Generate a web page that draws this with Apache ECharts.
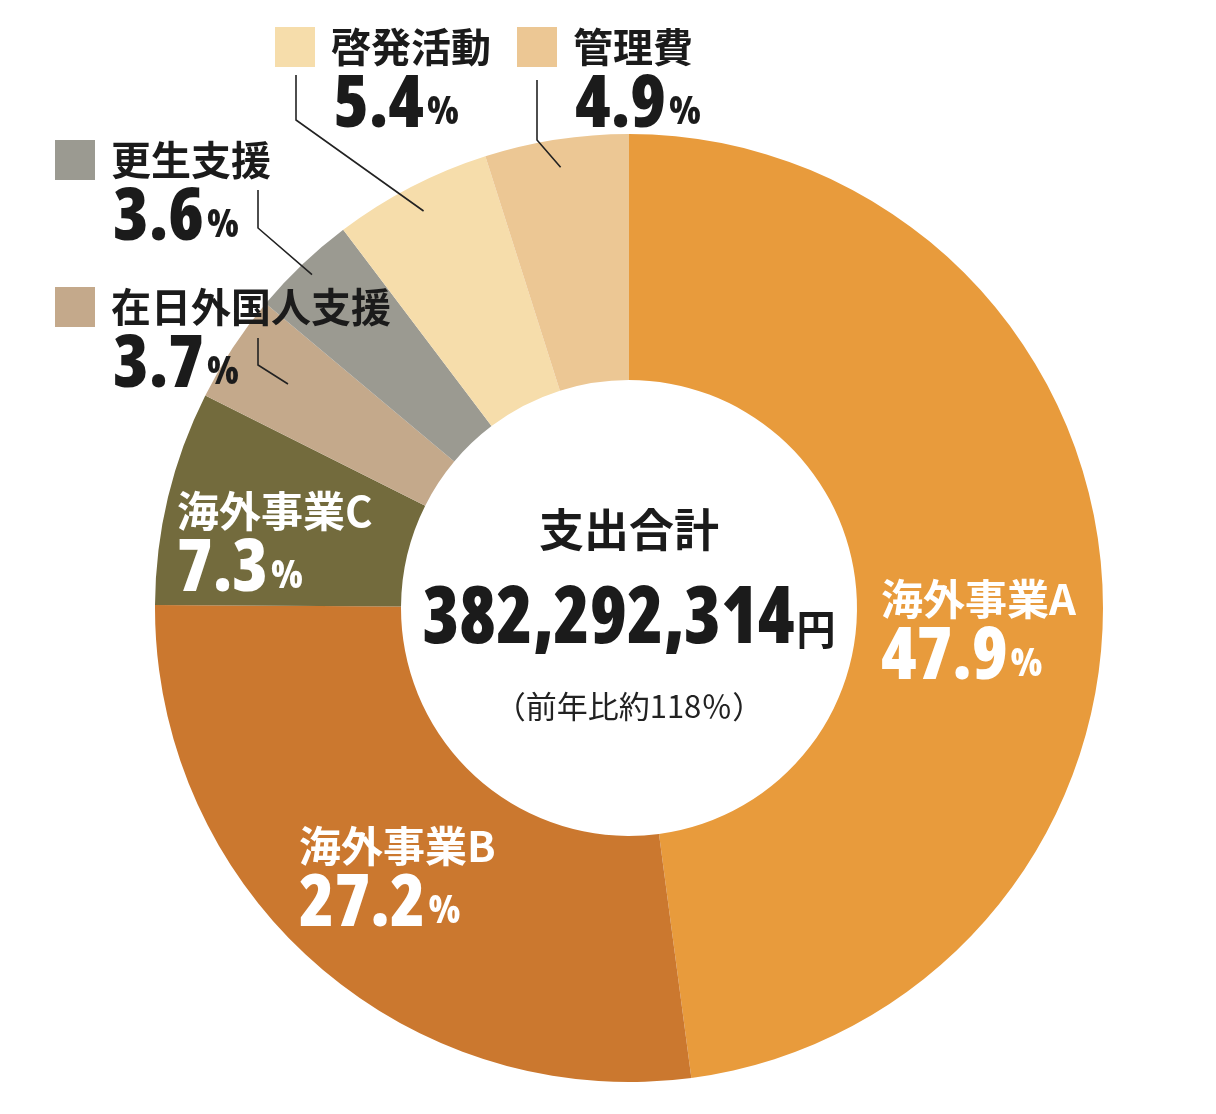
<!DOCTYPE html>
<html lang="ja">
<head>
  <meta charset="UTF-8">
  <title>支出内訳</title>
  <style>
    body { margin: 0; padding: 0; background: #fff; }
    #chart { width: 1216px; height: 1114px; }
  </style>
</head>
<body>
  <div id="chart"></div>
  <script src="https://cdn.jsdelivr.net/npm/echarts@6/dist/echarts.min.js"></script>
  <script>
    // data
    var categories = ['海外事業A', '海外事業B', '海外事業C', '在日外国人支援', '更生支援', '啓発活動', '管理費'];
    var shares = [47.9, 27.2, 7.3, 3.7, 3.6, 5.4, 4.9];
    var sliceColors = ['#E89B3C', '#CB782F', '#736B3D', '#C4A98B', '#9B9A91', '#F6DDAB', '#ECC794'];
    var totalLabel = '支出合計';
    var totalAmount = 382292314;
    var yoyPercent = 118;

    // label placement (layout only)
    var cx = 629, cy = 608;
    var inside = [true, true, true, false, false, false, false];
    var spots = [
      { x: 881, y: 572 },
      { x: 299, y: 819 },
      { x: 177, y: 484 },
      { x: 55, y: 280, line: { r: 408, x: 258, bend: 365, end: 338 } },
      { x: 55, y: 133, line: { r: 460, x: 258, bend: 228, end: 190 } },
      { x: 275, y: 20, line: { r: 447, x: 296, bend: 120, end: 75 } },
      { x: 517, y: 20, line: { r: 446, x: 537, bend: 140, end: 80 } }
    ];

    var cjk = '"Noto Sans CJK JP", "Noto Sans", sans-serif';
    var numFont = '"Open Sans", "Roboto Condensed", sans-serif';
    var numWeight = '800 condensed';
    var ink = '#1b1b1b';

    // mid angle of each slice, from the shares
    var midAngles = [];
    var acc = 0;
    shares.forEach(function (v) {
      var mid = acc + v / 2;
      midAngles.push(Math.PI / 2 - mid / 100 * Math.PI * 2);
      acc += v;
    });

    var sliceData = categories.map(function (name, i) {
      return { name: name, value: shares[i], itemStyle: { color: sliceColors[i] } };
    });

    // same slices again, see-through, carrying the labels so the leader lines sit on top
    var labelData = categories.map(function (name, i) {
      var num = shares[i].toFixed(1);
      var item = { name: name, value: shares[i] };
      if (inside[i]) {
        item.label = { formatter: '{iname|' + name + '}\n{inum|' + num + '}{ipct|%}' };
        item.labelLine = { show: false };
      } else {
        item.label = {
          formatter: '{sq| }{name|' + name + '}\n{sp| }{num|' + num + '}{pct|%}',
          rich: {
            sq: { width: 40, height: 40, backgroundColor: sliceColors[i] }
          }
        };
        item.labelLine = { show: true };
      }
      return item;
    });

    var chart = echarts.init(document.getElementById('chart'));

    var option = {
      animation: false,
      backgroundColor: '#fff',
      series: [
        {
          type: 'pie',
          center: [cx, cy],
          radius: [228, 474],
          startAngle: 90,
          clockwise: true,
          silent: true,
          label: { show: false },
          labelLine: { show: false },
          data: sliceData
        },
        {
          type: 'pie',
          z: 5,
          center: [cx, cy],
          radius: [228, 474],
          startAngle: 90,
          clockwise: true,
          avoidLabelOverlap: false,
          silent: true,
          itemStyle: { color: 'rgba(0,0,0,0)' },
          data: labelData,
          label: {
            show: true,
            position: 'outside',
            overflow: 'none',
            rich: {
              name: { fontFamily: cjk, fontWeight: 'bold', fontSize: 40, color: ink, padding: [0, 0, 0, 16], lineHeight: 54 },
              sp: { width: 58 },
              num: { fontFamily: numFont, fontWeight: numWeight, fontSize: 72, color: ink, lineHeight: 64 },
              pct: { fontFamily: numFont, fontWeight: numWeight, fontSize: 38, color: ink, verticalAlign: 'bottom', padding: [0, 0, 6, 3] },
              iname: { fontFamily: cjk, fontWeight: 'bold', fontSize: 42, color: '#fff', lineHeight: 54 },
              inum: { fontFamily: numFont, fontWeight: numWeight, fontSize: 72, color: '#fff', lineHeight: 64 },
              ipct: { fontFamily: numFont, fontWeight: numWeight, fontSize: 38, color: '#fff', verticalAlign: 'bottom', padding: [0, 0, 6, 3] }
            }
          },
          labelLine: {
            lineStyle: { color: '#222', width: 1.6 }
          },
          labelLayout: function (params) {
            var i = params.dataIndex;
            var s = spots[i];
            var out = { x: s.x, y: s.y, align: 'left', verticalAlign: 'top' };
            if (s.line) {
              var a = midAngles[i];
              var start = [cx + Math.cos(a) * s.line.r, cy - Math.sin(a) * s.line.r];
              out.labelLinePoints = [start, [s.line.x, s.line.bend], [s.line.x, s.line.end]];
            }
            return out;
          }
        }
      ],
      graphic: [
        {
          type: 'text',
          x: cx, y: 530,
          style: {
            text: totalLabel,
            font: 'bold 45px ' + cjk,
            fill: ink,
            textAlign: 'center',
            textVerticalAlign: 'middle'
          }
        },
        {
          type: 'text',
          x: cx, y: 620,
          scaleX: 0.93,
          style: {
            text: '{n|' + totalAmount.toLocaleString('en-US') + '}{y|円}',
            textAlign: 'center',
            textVerticalAlign: 'middle',
            rich: {
              n: { fontFamily: numFont, fontWeight: numWeight, fontSize: 80, fill: ink, lineHeight: 80 },
              y: { fontFamily: cjk, fontWeight: 'bold', fontSize: 42, fill: ink, verticalAlign: 'bottom', padding: [0, 0, 10, 2] }
            }
          }
        },
        {
          type: 'text',
          x: cx, y: 706,
          style: {
            text: '（前年比約' + yoyPercent + '％）',
            font: '31px ' + cjk,
            fill: '#222',
            textAlign: 'center',
            textVerticalAlign: 'middle'
          }
        }
      ]
    };

    chart.setOption(option);
  </script>
</body>
</html>
